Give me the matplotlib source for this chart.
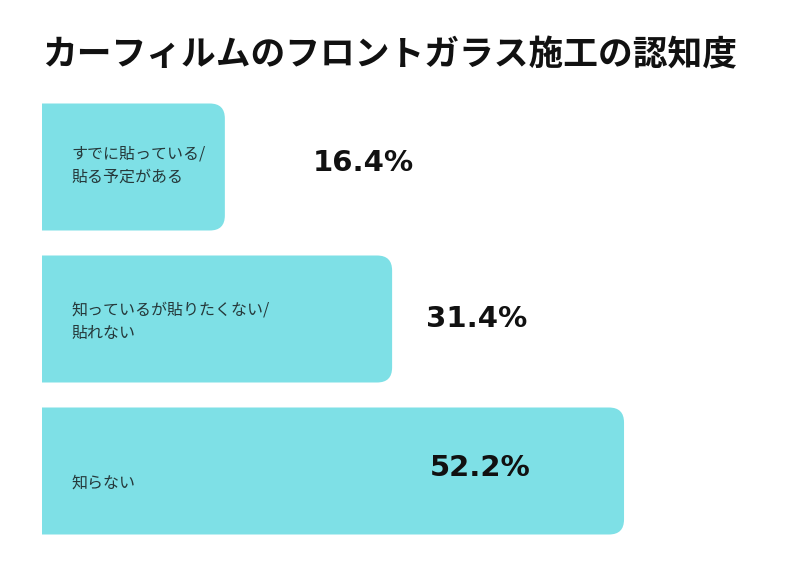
import matplotlib
matplotlib.use("Agg")
import matplotlib.pyplot as plt
from matplotlib.path import Path
from matplotlib.patches import PathPatch
from matplotlib.transforms import IdentityTransform

plt.rcParams['font.family'] = ['Noto Sans CJK JP', 'DejaVu Sans']

title = 'カーフィルムのフロントガラス施工の認知度'
categories = ['すでに貼っている/\n貼る予定がある',
              '知っているが貼りたくない/\n貼れない',
              '知らない']
values = [16.4, 31.4, 52.2]
value_labels = ['16.4%', '31.4%', '52.2%']

# layout: where the percentage labels sit (in % units) and small label nudges (pt)
value_label_x = [28.8, 39.0, 39.3]
value_label_dy = [3, 0, 2]
cat_label_dy = [1, -2, -9]

bar_color = '#7ee0e6'
W, H, DPI = 787, 568, 100

fig = plt.figure(figsize=(W / DPI, H / DPI), dpi=DPI)
fig.patch.set_facecolor('white')

# 0% sits at x=42px, 11.15 px per %, each row 152px tall
px_per_pct = 11.15
ax = fig.add_axes([42 / W, 21 / H, 60 * px_per_pct / W, 456 / H])
ax.set_xlim(0, 60)
ax.set_ylim(2.5, -0.5)
ax.axis('off')

bars = ax.barh(range(len(values)), values, height=127 / 152, color=bar_color)


def round_right(bar, r=15):
    ''' swap a plain bar for one with rounded right corners '''
    (x0, y0), (x1, y1) = ax.transData.transform(
        [(bar.get_x(), bar.get_y() + bar.get_height()),
         (bar.get_x() + bar.get_width(), bar.get_y())])
    verts = [(x0, y0), (x1 - r, y0), (x1, y0), (x1, y0 + r),
             (x1, y1 - r), (x1, y1), (x1 - r, y1), (x0, y1), (x0, y0)]
    codes = [Path.MOVETO, Path.LINETO, Path.CURVE3, Path.CURVE3,
             Path.LINETO, Path.CURVE3, Path.CURVE3, Path.LINETO, Path.CLOSEPOLY]
    patch = PathPatch(Path(verts, codes), facecolor=bar.get_facecolor(),
                      edgecolor='none', transform=IdentityTransform())
    bar.set_visible(False)
    ax.add_patch(patch)


for b in bars:
    round_right(b)

for i, (cat, lab) in enumerate(zip(categories, value_labels)):
    ax.annotate(cat, (0, i), xytext=(21, cat_label_dy[i]), textcoords='offset points',
                ha='left', va='center', fontsize=11.5, color='#26393b',
                linespacing=1.5)
    ax.annotate(lab, (value_label_x[i], i), xytext=(0, value_label_dy[i]),
                textcoords='offset points', ha='center', va='center',
                fontsize=21, fontweight='bold', color='#111111',
                family=['DejaVu Sans'])

fig.text(42 / W, 1 - 55 / H, title, ha='left', va='center',
         fontsize=25, fontweight='bold', color='#111111')

fig.savefig('out.png', dpi=DPI)
